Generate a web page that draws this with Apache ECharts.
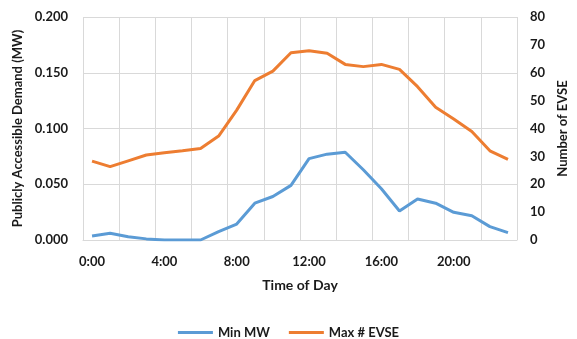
<!DOCTYPE html>
<html>
<head>
<meta charset="utf-8">
<script src="https://cdn.jsdelivr.net/npm/echarts@6/dist/echarts.min.js"></script>
<style>
  html, body { margin: 0; padding: 0; background: #fff; }
  #chart { width: 577px; height: 339px; }
</style>
</head>
<body>
<div id="chart"></div>
<script>
const hours = ['0:00', '1:00', '2:00', '3:00', '4:00', '5:00', '6:00', '7:00', '8:00', '9:00', '10:00', '11:00',
  '12:00', '13:00', '14:00', '15:00', '16:00', '17:00', '18:00', '19:00', '20:00', '21:00', '22:00', '23:00'];
const minMW = [0.0036, 0.006, 0.003, 0.001, 0, 0, 0, 0.0075, 0.0143, 0.033, 0.039, 0.049,
  0.073, 0.077, 0.0787, 0.063, 0.046, 0.026, 0.0368, 0.033, 0.0248, 0.0218, 0.012, 0.0066];
const maxEVSE = [28.3, 26.3, 28.4, 30.5, 31.3, 32, 32.8, 37.3, 46.6, 57.2, 60.6, 67.2,
  67.9, 67.0, 63.0, 62.2, 63.0, 61.2, 55, 47.6, 43.4, 38.9, 32.0, 28.9];

const font = 'Lato';
const textColor = '#1a1a1a';
const gridColor = '#d9d9d9';

const chart = echarts.init(document.getElementById('chart'));

chart.setOption({
  animation: false,
  textStyle: { fontFamily: font },
  grid: { left: 83, right: 52, top: 17, bottom: 99 },
  legend: {
    top: 321,
    left: 'center',
    itemWidth: 35,
    itemHeight: 3,
    itemGap: 19,
    icon: 'rect',
    textStyle: { fontFamily: font, fontSize: 13, fontWeight: 'bold', color: textColor },
    data: ['Min MW', 'Max # EVSE']
  },
  xAxis: {
    type: 'category',
    data: hours,
    boundaryGap: true,
    name: 'Time of Day',
    nameLocation: 'middle',
    nameGap: 38,
    nameTextStyle: { fontFamily: font, fontSize: 14, fontWeight: 'bold', color: textColor },
    axisLine: { show: true, lineStyle: { color: gridColor, width: 1 } },
    axisTick: { show: false },
    axisLabel: { interval: 3, margin: 15, fontSize: 13, fontWeight: 'bold', color: textColor },
    splitLine: { show: true, interval: 1, lineStyle: { color: gridColor, width: 1 } }
  },
  yAxis: [
    {
      type: 'value',
      min: 0,
      max: 0.2,
      interval: 0.05,
      name: 'Publicly Accessible Demand (MW)',
      nameLocation: 'middle',
      nameGap: 58,
      nameTextStyle: { fontFamily: font, fontSize: 13, fontWeight: 'bold', color: textColor },
      axisLine: { show: false },
      axisTick: { show: false },
      axisLabel: {
        margin: 15, fontSize: 13, fontWeight: 'bold', color: textColor,
        formatter: v => v.toFixed(3)
      },
      splitLine: { show: true, lineStyle: { color: gridColor, width: 1 } }
    },
    {
      type: 'value',
      min: 0,
      max: 80,
      interval: 10,
      name: 'Number of EVSE',
      nameLocation: 'middle',
      nameGap: 38,
      nameTextStyle: { fontFamily: font, fontSize: 13, fontWeight: 'bold', color: textColor },
      axisLine: { show: false },
      axisTick: { show: false },
      axisLabel: { margin: 13, fontSize: 13, fontWeight: 'bold', color: textColor },
      splitLine: { show: false }
    }
  ],
  series: [
    {
      name: 'Min MW',
      type: 'line',
      yAxisIndex: 0,
      data: minMW,
      symbol: 'none',
      itemStyle: { color: '#5B9BD5' },
      lineStyle: { color: '#5B9BD5', width: 3 }
    },
    {
      name: 'Max # EVSE',
      type: 'line',
      yAxisIndex: 1,
      data: maxEVSE,
      symbol: 'none',
      itemStyle: { color: '#ED7D31' },
      lineStyle: { color: '#ED7D31', width: 3 }
    }
  ]
});
</script>
</body>
</html>
